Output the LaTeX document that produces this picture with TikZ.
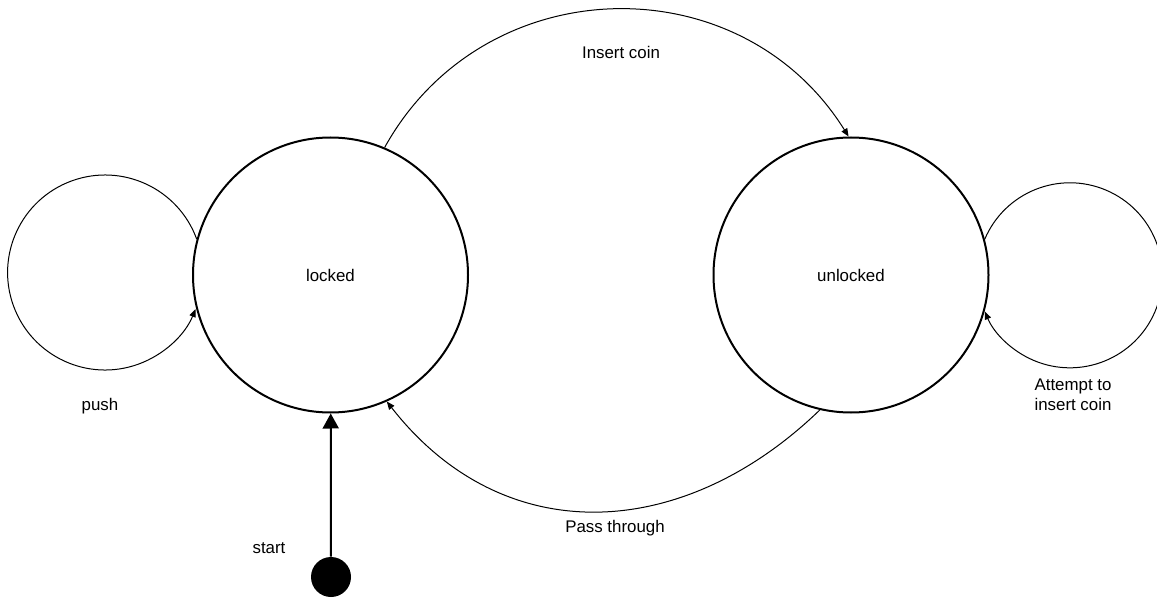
\documentclass[tikz,border=0pt]{standalone}
\usepackage{fontspec}
\setmainfont{Liberation Sans}
\usetikzlibrary{arrows.meta}
\tikzset{
	state/.style={draw, circle, line width=0.4mm, minimum size=5.5cm, inner sep=0pt},
	startdot/.style={fill=black, circle, minimum size=0.8cm, inner sep=0pt},
	thinline/.style={line width=0.2mm}
}

\begin{document}
\begin{tikzpicture}[font=\fontsize{9.6}{11.5}\selectfont]
		%%%%% START %%%%%
		\useasboundingbox (0, 0) rectangle (23.14, 11.94);
		
		\node[state] (locked) at (6.61, 6.44) {locked};
		\node[state] (unlocked) at (17.02, 6.44) {unlocked};
		\node[startdot] (start) at (6.62, 0.40) {};
		
		\draw[line width=0.4mm, -{Triangle[width=3.2mm, length=3mm]}] (start) -- (locked);
		
		\draw[thinline, -{Triangle[width=1.3mm, length=1.6mm]}] (locked.67) .. controls +(61:4.1) and +(122:4.1) .. (unlocked.91);
		\draw[thinline, -{Triangle[width=1.3mm, length=1.6mm]}] (unlocked.257) .. controls +(224:3.8) and +(308:3.8) .. (locked.294);
		
		\draw[thinline, -{Triangle[width=1.3mm, length=1.6mm]}] (locked.165) arc[start angle=20, end angle=338, radius=1.95];
		\draw[thinline, -{Triangle[width=1.3mm, length=1.6mm]}] (unlocked.15) arc[start angle=157, end angle=-157, radius=1.85];
		
		\node (coinlbl) at (12.42, 10.90) {Insert coin};
		\node (passlbl) at (12.30, 1.38) {Pass through};
		\node (pushlbl) at (2.00, 3.82) {push};
		\node[align=center] (attemptlbl) at (21.46, 4.04) {Attempt to\\insert coin};
		\node (startlbl) at (5.38, 0.98) {start};
		
		%%%%% END %%%%%
\end{tikzpicture}
\end{document}
